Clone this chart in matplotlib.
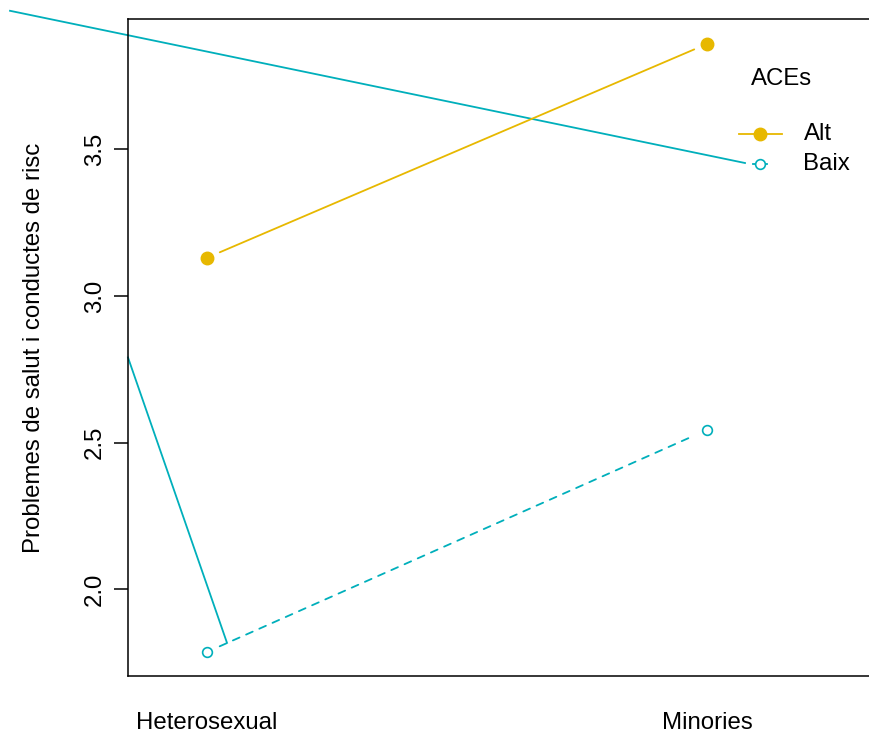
import matplotlib.pyplot as plt

plt.rcParams['font.family'] = ['Liberation Sans', 'DejaVu Sans']

# data
groups = ["Heterosexual", "Minories"]
xpos = [1, 2]
alt = [3.130, 3.859]
baix = [1.786, 2.543]
levels = ["Alt", "Baix"]
yticks = [2.0, 2.5, 3.0, 3.5]

# stray segments that appear in the original render
stray_a_x = [0.606, 2.076]
stray_a_y = [3.972, 3.453]
stray_b_x = [0.842, 1.040]
stray_b_y = [2.790, 1.817]

col_alt = "#E7B800"
col_baix = "#00AFBB"
fs = 17.3

fig = plt.figure(figsize=(8.69, 7.35), dpi=100)
ax = fig.add_axes([128/869, 1 - 676/735, 772/869, 657/735])
ax.set_xlim(0.842, 2.386)
ax.set_ylim(1.704, 3.944)

# lines with gaps around the points (R type="b")
ax.annotate("", xy=(xpos[1], alt[1]), xytext=(xpos[0], alt[0]),
            arrowprops=dict(arrowstyle="-", color=col_alt, lw=1.3,
                            shrinkA=10, shrinkB=10))
ax.annotate("", xy=(xpos[1], baix[1]), xytext=(xpos[0], baix[0]),
            arrowprops=dict(arrowstyle="-", color=col_baix, lw=1.3,
                            linestyle=(0, (4, 4)), shrinkA=10, shrinkB=10))
ax.plot(xpos, alt, "o", color=col_alt, ms=9, ls="none")
ax.plot(xpos, baix, "o", mfc="white", mec=col_baix, mew=1.2, ms=7, ls="none")

ax.plot(stray_a_x, stray_a_y, color=col_baix, lw=1.3, clip_on=False)
ax.plot(stray_b_x, stray_b_y, color=col_baix, lw=1.3, clip_on=False)

# legend drawn by hand
tr = ax.transAxes
ax.text(0.846, 0.9087, "ACEs", transform=tr, ha="center", va="center", fontsize=fs)
ax.plot([0.7915, 0.847], [0.825, 0.825], color=col_alt, lw=1.3, transform=tr)
ax.plot([0.8187], [0.825], "o", color=col_alt, ms=9, transform=tr)
ax.plot([0.8096, 0.8277], [0.7793, 0.7793], color=col_baix, lw=1.3, transform=tr)
ax.plot([0.8187], [0.7793], "o", mfc="white", mec=col_baix, mew=1.2, ms=7, transform=tr)
ax.text(0.875, 0.825, levels[0], transform=tr, ha="left", va="center", fontsize=fs)
ax.text(0.875, 0.7793, levels[1], transform=tr, ha="left", va="center", fontsize=fs)

ax.set_yticks(yticks)
ax.set_yticklabels([f"{v:.1f}" for v in yticks], rotation=90, va="center", fontsize=fs)
ax.tick_params(axis="y", length=10, width=1.1, pad=6)
ax.set_xticks(xpos)
ax.set_xticklabels(groups, fontsize=fs)
ax.tick_params(axis="x", length=0, pad=26)
ax.set_ylabel("Problemes de salut i conductes de risc", fontsize=fs, labelpad=28)
for s in ax.spines.values():
    s.set_linewidth(1.1)

fig.savefig("out.png", dpi=100)
